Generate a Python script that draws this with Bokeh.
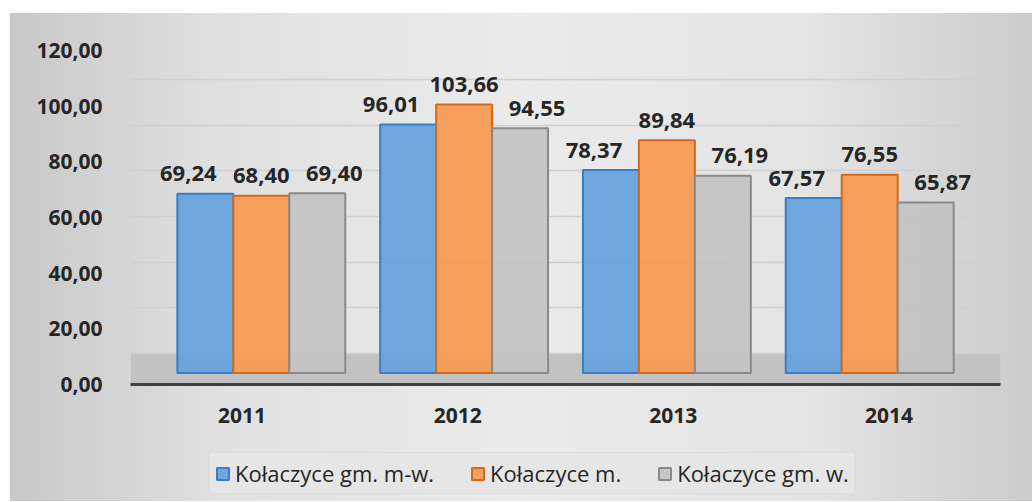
from bokeh.plotting import figure
from bokeh.layouts import column
from bokeh.models import (FactorRange, Range1d, LinearAxis, CategoricalAxis, Grid,
                          FixedTicker, CustomJSTickFormatter, ColumnDataSource,
                          Legend, LegendItem, BoxAnnotation)
from bokeh.transform import dodge
from bokeh.core.properties import value
from bokeh.embed import file_html
from bokeh.resources import INLINE

# ---- data ----
years = ["2011", "2012", "2013", "2014"]
gm_mw = [69.24, 96.01, 78.37, 67.57]      # Kołaczyce gm. m-w.
miasto = [68.40, 103.66, 89.84, 76.55]    # Kołaczyce m.
gm_w = [69.40, 94.55, 76.19, 65.87]       # Kołaczyce gm. w.
series_names = ["Kołaczyce gm. m-w.", "Kołaczyce m.", "Kołaczyce gm. w."]
y_ticks = [0, 20, 40, 60, 80, 100, 120]


def fmt(v):
    return f"{v:.2f}".replace(".", ",")


source = ColumnDataSource(dict(
    year=years,
    gm_mw=gm_mw, miasto=miasto, gm_w=gm_w,
    gm_mw_lbl=[fmt(v) for v in gm_mw],
    miasto_lbl=[fmt(v) for v in miasto],
    gm_w_lbl=[fmt(v) for v in gm_w],
))

FONT = "Open Sans"
TXT = "#262626"
GRAD = "linear-gradient(to right, #c8c8c8 0%, #e0e0e0 20%, #ebebeb 50%, #e4e4e4 78%, #cccccc 100%)"
bw = 0.276

p = figure(width=1022, height=430,
           x_range=FactorRange(factors=years, range_padding=0.145, range_padding_units="absolute"),
           y_range=Range1d(-4.44, 128.4),
           x_axis_location=None, y_axis_location=None,
           output_backend="svg", toolbar_location=None,
           min_border_left=120, min_border_right=32, min_border_top=27, min_border_bottom=59)
p.background_fill_color = None
p.border_fill_color = None
p.outline_line_color = None
p.styles = {"background": GRAD}

p.extra_x_ranges = {"axis": FactorRange(factors=years, range_padding=0.0165, range_padding_units="absolute")}
p.extra_y_ranges = {"ax": Range1d(0, 123.6), "grid": Range1d(-13.57, 137.0)}

# remove default grids
p.center = [r for r in p.center if not isinstance(r, Grid)]

# floor
floor = BoxAnnotation(top=0, y_range_name="grid", fill_color="#c2c2c2", fill_alpha=1.0,
                      line_color=None, level="underlay")
p.add_layout(floor)

# back-wall grid
ygrid = Grid(dimension=1, ticker=FixedTicker(ticks=y_ticks), y_range_name="grid",
             grid_line_color="#d0d0d0", grid_line_width=1.5)
p.add_layout(ygrid)

# axes
yaxis = LinearAxis(y_range_name="ax", ticker=FixedTicker(ticks=y_ticks),
                   formatter=CustomJSTickFormatter(code="return tick.toFixed(2).replace('.', ',');"))
yaxis.axis_line_color = None
yaxis.major_tick_line_color = None
yaxis.minor_tick_line_color = None
yaxis.major_label_text_font = FONT
yaxis.major_label_text_font_style = "bold"
yaxis.major_label_text_font_size = "21px"
yaxis.major_label_text_color = TXT
yaxis.major_label_standoff = 22
p.add_layout(yaxis, "left")

xaxis = CategoricalAxis(x_range_name="axis")
xaxis.axis_line_color = "#404040"
xaxis.axis_line_width = 3
xaxis.major_tick_line_color = None
xaxis.minor_tick_line_color = None
xaxis.major_label_text_font = FONT
xaxis.major_label_text_font_style = "bold"
xaxis.major_label_text_font_size = "21px"
xaxis.major_label_text_color = TXT
xaxis.major_label_standoff = 17
p.add_layout(xaxis, "below")

# bars
specs = [
    ("gm_mw", -bw, "#64a2de", "#3a7dc4", -17),
    ("miasto", 0.0, "#f59b52", "#d5681c", 0),
    ("gm_w", bw, "#c4c4c4", "#8a8a8a", 17),
]
for col, off, fc, lc, xo in specs:
    p.vbar(x=dodge("year", off, range=p.x_range), top=col, width=bw, bottom=0,
           source=source, fill_color=fc, line_color=lc, line_width=2, fill_alpha=0.93)
    p.text(x=dodge("year", off, range=p.x_range), y=col, text=col + "_lbl", source=source,
           x_offset=xo, y_offset=-20, text_font=value(FONT), text_font_style="bold",
           text_font_size="22px", text_color=TXT, text_align="center",
           text_baseline="alphabetic")

# ---- legend strip (separate figure below the chart) ----
# hidden renderers that only provide the legend swatches
lg = figure(width=1022, height=58, x_range=FactorRange(factors=years),
            y_range=Range1d(0, 1),
            x_axis_location=None, y_axis_location=None,
            output_backend="svg", toolbar_location=None, min_border=0)
lg.background_fill_color = None
lg.border_fill_color = None
lg.outline_line_color = None
lg.styles = {"background": GRAD}
lg.center = [r for r in lg.center if not isinstance(r, Grid)]

leg_renderers = []
for col, off, fc, lc, xo in specs:
    r = lg.vbar(x="year", top=col, width=bw, bottom=0, source=source,
                fill_color=fc, line_color=lc, line_width=2, fill_alpha=0.93)
    r.visible = False
    leg_renderers.append(r)

legend = Legend(items=[LegendItem(label=n, renderers=[r]) for n, r in zip(series_names, leg_renderers)],
                location=(79, 7), orientation="horizontal")
legend.margin = 0
legend.padding = 5
legend.spacing = 36
legend.glyph_width = 15
legend.glyph_height = 15
legend.label_standoff = 5
legend.label_text_font = FONT
legend.label_text_font_size = "22px"
legend.label_text_color = TXT
legend.background_fill_color = "#e6e6e6"
legend.background_fill_alpha = 1.0
legend.border_line_color = "#d6d6d6"
lg.add_layout(legend)

layout = column(p, lg, spacing=0)
layout.margin = (13, 0, 0, 10)

open("out.html", "w").write(file_html(layout, INLINE))
